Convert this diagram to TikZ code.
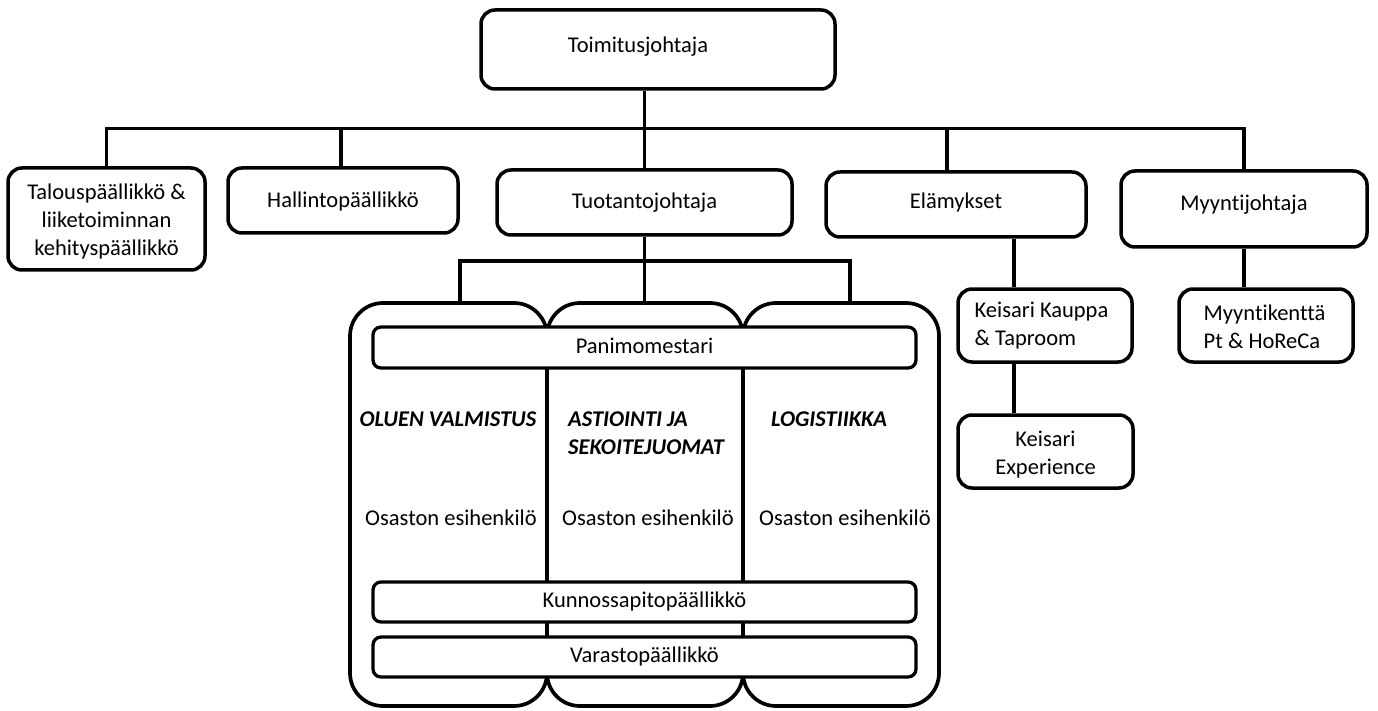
\documentclass[tikz,border=0pt]{standalone}
\usepackage{fontspec}
\setmainfont{Carlito}[Ligatures={NoCommon}]
% text lowered by #1 without changing the box used for centring
\newcommand{\boxtxt}[3]{\raisebox{-#1}[\height][\depth]{\begin{tabular}{#2}#3\end{tabular}}}
\begin{document}
\begin{tikzpicture}[x=1pt,y=-1pt,
  bx/.style={draw, line width=3.5pt, rounded corners=14pt, inner sep=0pt, fill=white},
  ibx/.style={draw, line width=3.3pt, rounded corners=8pt, inner sep=0pt, fill=white},
  col/.style={draw, line width=3.7pt, rounded corners=33pt, inner sep=0pt},
  ln/.style={line width=3.1pt},
  hd/.style={font=\fontsize{22.5}{28}\selectfont\bfseries\itshape},
  font=\fontsize{22.5}{28}\selectfont]
\useasboundingbox (0,0) rectangle (1378,711);

% top level
\node[bx, minimum width=354, minimum height=79] (toim) at (658,49.5)
  {\boxtxt{-2.5pt}{@{}c@{\hspace{40pt}}}{Toimitusjohtaja}};

\node[bx, minimum width=197, minimum height=102] (talous) at (106.5,219)
  {\boxtxt{3pt}{@{}c@{}}{Talouspäällikkö \&\\liiketoiminnan\\kehityspäällikkö}};
\node[bx, minimum width=230, minimum height=65] (hallinto) at (343,200.5)
  {\boxtxt{1.5pt}{@{}c@{}}{Hallintopäällikkö}};
\node[bx, minimum width=295, minimum height=65] (tuot) at (644.5,202.5)
  {\boxtxt{0.5pt}{@{}c@{}}{Tuotantojohtaja}};
\node[bx, minimum width=260, minimum height=65] (elam) at (956,204.5)
  {\boxtxt{-1.5pt}{@{}c@{}}{Elämykset}};
\node[bx, minimum width=246, minimum height=76] (myyn) at (1244,209)
  {\boxtxt{-4pt}{@{}c@{}}{Myyntijohtaja}};
\node[bx, minimum width=174, minimum height=73] (kk) at (1045,325.5)
  {\boxtxt{0pt}{@{}l@{\hspace{7pt}}}{Keisari Kauppa\\\& Taproom}};
\node[bx, minimum width=175, minimum height=73] (ke) at (1045.5,451.5)
  {\boxtxt{3pt}{@{}c@{}}{Keisari\\Experience}};
\node[bx, minimum width=174, minimum height=73] (mk) at (1266,325.5)
  {\boxtxt{3.5pt}{@{}l@{\hspace{3pt}}}{Myyntikenttä\\Pt \& HoReCa}};

% main bus
\coordinate (bus) at (0,128.5);
\draw[ln] (talous.north) -- (talous.north |- bus) -- (myyn.north |- bus) -- (myyn.north);
\draw[ln] ([xshift=-2pt]hallinto.north) -- ([xshift=-2pt]hallinto.north |- bus);
\draw[ln] (toim.south -| tuot.north) -- (tuot.north);
\draw[ln] ([xshift=-9pt]elam.north) -- ([xshift=-9pt]elam.north |- bus);

% right branches
\draw[ln] ([xshift=58pt]elam.south) -- ([xshift=58pt]elam.south |- kk.north);
\draw[ln] ([xshift=-31pt]kk.south) -- ([xshift=-31pt]kk.south |- ke.north);
\draw[ln] (myyn.south) -- (myyn.south |- mk.north);

% production columns
\node[col, minimum width=197, minimum height=403] (c1) at (448.5,504.5) {};
\node[col, minimum width=196, minimum height=403] (c2) at (645,504.5) {};
\node[col, minimum width=196, minimum height=403] (c3) at (841,504.5) {};

\coordinate (sbus) at (0,261);
\draw[ln] ([xshift=11.5pt]c1.north) -- ([xshift=11.5pt]c1.north |- sbus) -- ([xshift=9pt]c3.north |- sbus) -- ([xshift=9pt]c3.north);
\draw[ln] (tuot.south) -- (tuot.south |- c2.north);

% shared boxes
\node[ibx, minimum width=543, minimum height=41] (pan) at (644.5,347.5) {\boxtxt{0pt}{@{}c@{}}{Panimomestari}};
\node[ibx, minimum width=543, minimum height=40] (kun) at (644.5,602) {\boxtxt{0pt}{@{}c@{}}{Kunnossapitopäällikkö}};
\node[ibx, minimum width=543, minimum height=40] (var) at (644.5,657) {\boxtxt{0pt}{@{}c@{}}{Varastopäällikkö}};

% column texts
\node[hd] (t1) at (448,419) {OLUEN VALMISTUS};
\node[hd, align=left, anchor=west, inner sep=0pt] (t2) at (568,433) {ASTIOINTI JA\\SEKOITEJUOMAT};
\node[hd, anchor=west, inner sep=0pt] (t3) at (771,419) {LOGISTIIKKA};
\node (o1) at (451,518) {Osaston esihenkilö};
\node (o2) at (648,518) {Osaston esihenkilö};
\node (o3) at (845,518) {Osaston esihenkilö};
\end{tikzpicture}
\end{document}
